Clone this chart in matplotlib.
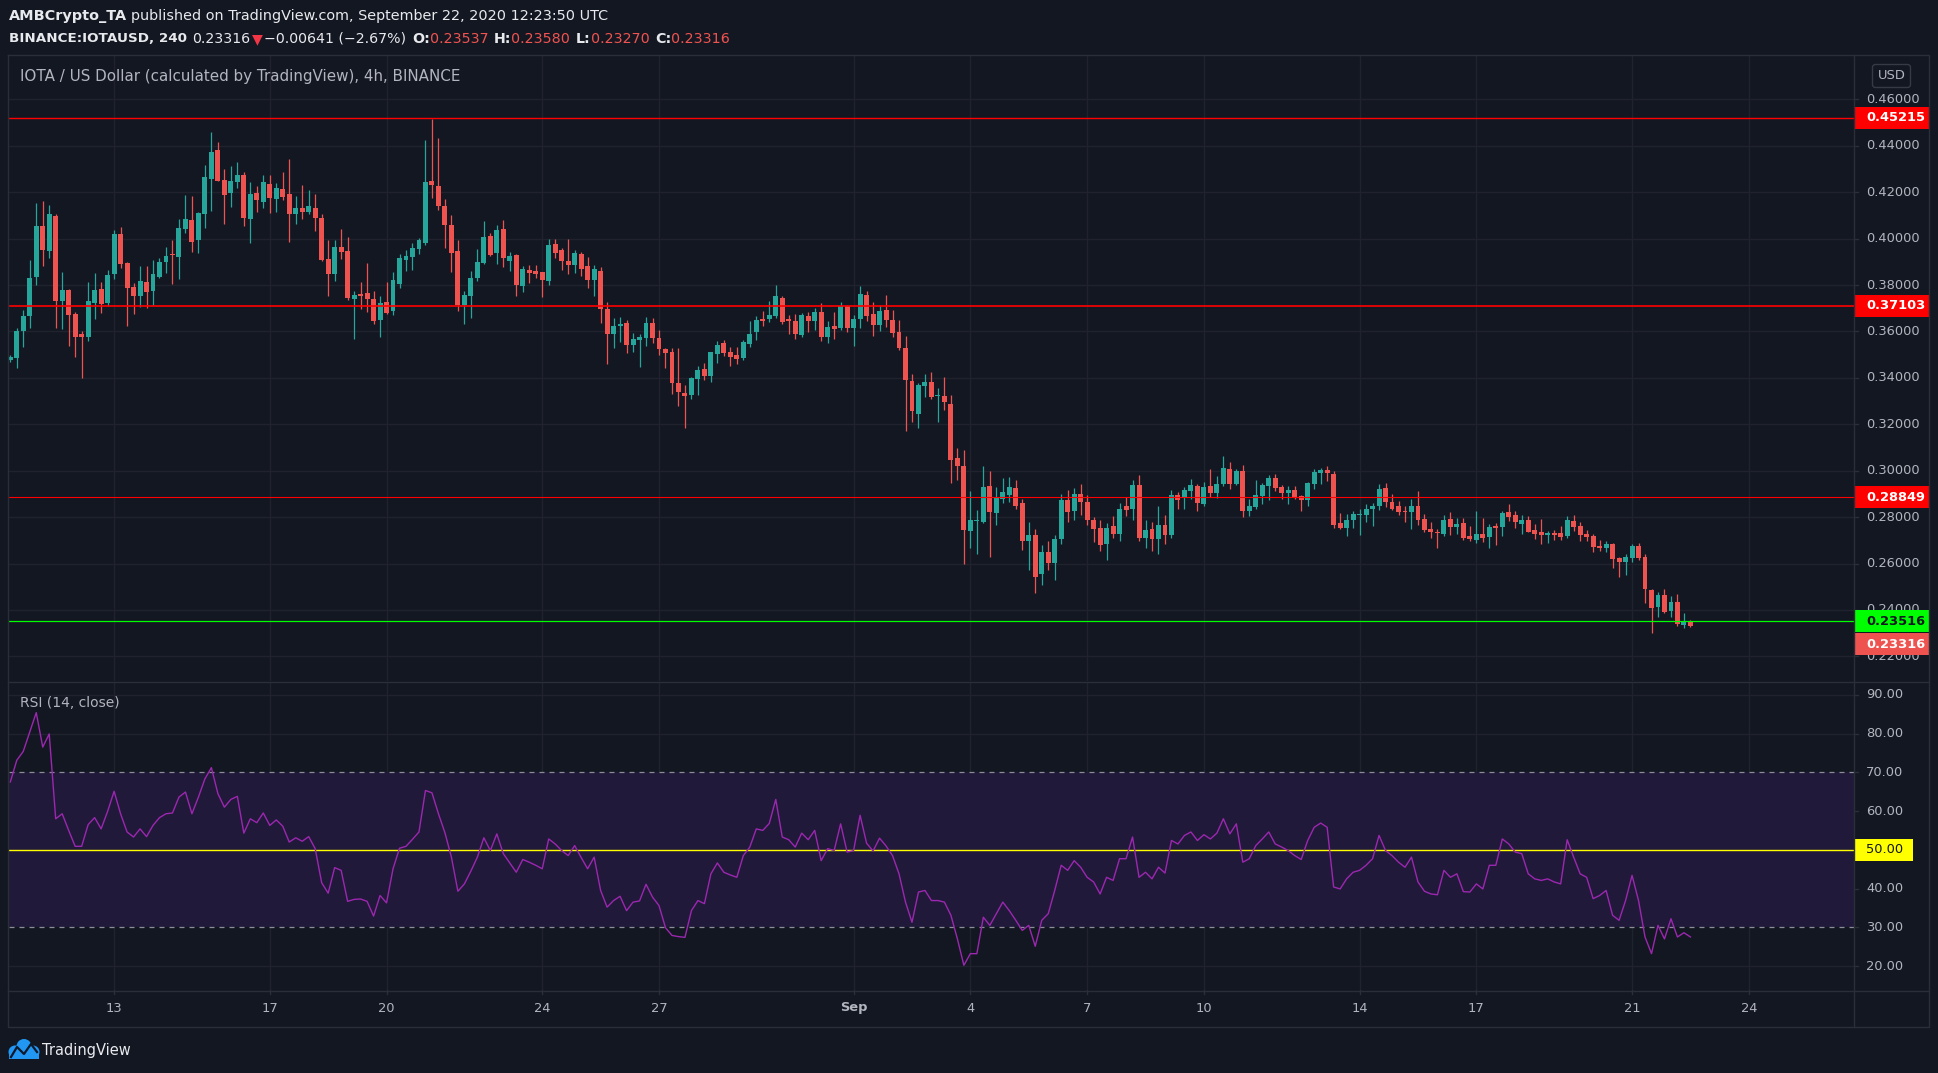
import numpy as np
import pandas as pd
import matplotlib
matplotlib.use("Agg")
import matplotlib.pyplot as plt
from matplotlib.patches import Rectangle, FancyBboxPatch, Circle

# ---------------- data (IOTA/USD 4h, Binance) ----------------
start_time = "2020-08-10 08:00"
opens = [
 .3476,.3485,.3602,.3665,.3835,.4055,.3948,.4098,.3730,.3778,.3674,.3587,.3578,.3721,.3782,.3721,
 .3847,.4020,.3895,.3791,.3752,.3812,.3773,.3834,.3899,.3934,.3921,.4042,.4081,.3994,.4107,.4259,
 .4380,.4254,.4198,.4245,.4272,.4085,.4198,.4159,.4237,.4172,.4215,.4194,.4107,.4133,.4116,.4133,
 .4090,.3912,.3847,.3964,.3947,.3739,.3760,.3765,.3739,.3648,.3726,.3687,.3804,.3908,.3921,.3955,
 .3981,.4250,.4228,.4142,.4059,.3947,.3713,.3752,.3830,.3895,.4010,.3937,.4040,.3902,.3928,.3795,
 .3864,.3859,.3855,.3816,.3976,.3950,.3902,.3885,.3933,.3881,.3821,.3859,.3696,.3588,.3622,.3635,
 .3541,.3562,.3571,.3635,.3571,.3523,.3510,.3377,.3334,.3325,.3394,.3437,.3407,.3502,.3549,.3510,
 .3497,.3485,.3545,.3597,.3653,.3653,.3666,.3743,.3653,.3644,.3584,.3666,.3644,.3683,.3575,.3622,
 .3614,.3709,.3614,.3653,.3756,.3674,.3627,.3692,.3648,.3597,.3528,.3386,.3244,.3364,.3381,.3322,
 .3321,.3286,.3054,.3019,.2738,.2783,.2777,.2932,.2816,.2876,.2894,.2924,.2859,.2695,.2721,.2553,
 .2648,.2604,.2704,.2872,.2825,.2898,.2863,.2786,.2755,.2686,.2760,.2729,.2846,.2837,.2937,.2708,
 .2747,.2704,.2768,.2725,.2894,.2881,.2911,.2932,.2855,.2932,.2902,.2941,.3006,.2941,.2997,.2825,
 .2842,.2889,.2932,.2967,.2928,.2902,.2915,.2889,.2872,.2941,.2989,.3001,.2984,.2773,.2755,.2786,
 .2809,.2807,.2833,.2846,.2924,.2863,.2846,.2825,.2820,.2846,.2794,.2747,.2734,.2729,.2793,.2758,
 .2776,.2719,.2702,.2728,.2715,.2763,.2758,.2823,.2810,.2771,.2789,.2745,.2737,.2724,.2732,.2732,
 .2719,.2784,.2763,.2728,.2719,.2676,.2668,.2685,.2625,.2607,.2625,.2676,.2629,.2487,.2413,.2465,
 .2396,.2435,.2335,.23537]
highs = [
 .3499,.3615,.3691,.3908,.4155,.4163,.4146,.4105,.3856,.3781,.3682,.3600,.3812,.3851,.3812,.3864,
 .4038,.4051,.3899,.3808,.3882,.3882,.3908,.3916,.3964,.3994,.4085,.4189,.4185,.4116,.4319,.4458,
 .4415,.4298,.4315,.4332,.4289,.4245,.4228,.4276,.4272,.4241,.4289,.4345,.4185,.4233,.4211,.4194,
 .4107,.3994,.3994,.4042,.4007,.3773,.3812,.3895,.3773,.3752,.3812,.3856,.3934,.3951,.3981,.4003,
 .4423,.4514,.4432,.4172,.4103,.3994,.3773,.3860,.3955,.4077,.4023,.4058,.4080,.3941,.3933,.3881,
 .3885,.3885,.3857,.3997,.3997,.3958,.3997,.3950,.3941,.3920,.3885,.3877,.3726,.3657,.3661,.3648,
 .3592,.3588,.3661,.3657,.3605,.3528,.3528,.3528,.3368,.3403,.3450,.3463,.3510,.3558,.3562,.3532,
 .3532,.3562,.3644,.3666,.3687,.3730,.3799,.3752,.3670,.3674,.3679,.3683,.3700,.3722,.3644,.3683,
 .3726,.3713,.3670,.3795,.3773,.3726,.3713,.3756,.3692,.3648,.3579,.3416,.3377,.3416,.3425,.3355,
 .3403,.3325,.3097,.3088,.2911,.2829,.3019,.2997,.2928,.2967,.2971,.2958,.2876,.2777,.2747,.2678,
 .2695,.2725,.2898,.2915,.2924,.2941,.2894,.2799,.2786,.2773,.2803,.2859,.2885,.2958,.2980,.2786,
 .2781,.2850,.2807,.2915,.2907,.2928,.2963,.2941,.2950,.3006,.2976,.3062,.3036,.3006,.3023,.2876,
 .2958,.2945,.2980,.2984,.2937,.2932,.2932,.2894,.2950,.3006,.3010,.3019,.2997,.2816,.2812,.2825,
 .2833,.2855,.2859,.2941,.2945,.2898,.2868,.2850,.2876,.2911,.2812,.2781,.2747,.2807,.2823,.2797,
 .2797,.2763,.2827,.2797,.2771,.2776,.2827,.2858,.2827,.2810,.2806,.2771,.2793,.2741,.2745,.2763,
 .2806,.2810,.2780,.2745,.2728,.2702,.2698,.2689,.2629,.2642,.2685,.2689,.2642,.2491,.2478,.2491,
 .2461,.2469,.2387,.23580]
lows = [
 .3470,.3441,.3535,.3617,.3801,.3882,.3918,.3617,.3609,.3539,.3492,.3398,.3558,.3652,.3678,.3710,
 .3825,.3873,.3622,.3674,.3704,.3700,.3713,.3830,.3851,.3804,.3825,.4025,.3942,.3938,.4046,.4120,
 .4247,.4064,.4137,.4220,.4055,.3981,.4116,.4133,.4111,.4116,.4168,.3986,.4064,.4085,.4107,.4033,
 .3903,.3752,.3817,.3912,.3734,.3566,.3695,.3682,.3630,.3578,.3674,.3669,.3786,.3860,.3864,.3934,
 .3973,.4176,.4124,.3960,.3856,.3687,.3630,.3656,.3817,.3890,.3924,.3889,.3877,.3859,.3752,.3769,
 .3808,.3829,.3747,.3799,.3915,.3864,.3846,.3851,.3838,.3786,.3752,.3635,.3459,.3528,.3554,.3506,
 .3510,.3446,.3536,.3549,.3498,.3442,.3330,.3278,.3183,.3308,.3325,.3390,.3381,.3463,.3493,.3450,
 .3459,.3476,.3532,.3562,.3622,.3640,.3657,.3631,.3588,.3566,.3575,.3597,.3605,.3558,.3549,.3566,
 .3605,.3597,.3536,.3614,.3644,.3579,.3601,.3618,.3575,.3519,.3170,.3209,.3183,.3317,.3308,.3209,
 .3261,.2946,.2959,.2597,.2669,.2643,.2773,.2630,.2768,.2859,.2863,.2837,.2660,.2574,.2471,.2509,
 .2574,.2527,.2682,.2777,.2786,.2807,.2764,.2691,.2652,.2617,.2712,.2699,.2803,.2786,.2695,.2665,
 .2652,.2643,.2686,.2712,.2837,.2837,.2876,.2825,.2850,.2885,.2881,.2932,.2919,.2937,.2799,.2803,
 .2837,.2855,.2872,.2911,.2876,.2855,.2876,.2825,.2850,.2919,.2941,.2954,.2755,.2747,.2717,.2755,
 .2721,.2781,.2760,.2829,.2842,.2829,.2807,.2781,.2747,.2764,.2734,.2708,.2665,.2717,.2724,.2728,
 .2702,.2698,.2689,.2694,.2668,.2681,.2720,.2784,.2754,.2728,.2734,.2707,.2685,.2689,.2702,.2702,
 .2711,.2741,.2698,.2698,.2650,.2655,.2650,.2581,.2543,.2551,.2607,.2616,.2430,.2301,.2370,.2387,
 .2370,.2331,.2322,.23270]
closes = [
 .3490,.3604,.3665,.3830,.4055,.3951,.4107,.3730,.3778,.3671,.3578,.3574,.3730,.3778,.3718,.3843,
 .4020,.3890,.3786,.3752,.3817,.3769,.3847,.3899,.3925,.3929,.4046,.4085,.3986,.4111,.4267,.4375,
 .4250,.4189,.4250,.4276,.4090,.4194,.4168,.4245,.4176,.4220,.4181,.4107,.4133,.4116,.4142,.4090,
 .3908,.3847,.3964,.3942,.3743,.3756,.3752,.3739,.3643,.3721,.3678,.3821,.3916,.3925,.3960,.3994,
 .4245,.4233,.4142,.4059,.3938,.3713,.3756,.3830,.3899,.4007,.3928,.4036,.3915,.3924,.3799,.3868,
 .3851,.3846,.3821,.3971,.3937,.3902,.3885,.3937,.3868,.3821,.3868,.3696,.3588,.3622,.3631,.3541,
 .3566,.3575,.3635,.3571,.3523,.3506,.3377,.3338,.3321,.3398,.3433,.3407,.3510,.3541,.3506,.3489,
 .3480,.3554,.3588,.3648,.3644,.3670,.3752,.3640,.3644,.3588,.3670,.3644,.3683,.3575,.3618,.3609,
 .3709,.3614,.3653,.3760,.3666,.3627,.3687,.3648,.3592,.3528,.3390,.3256,.3368,.3381,.3317,.3325,
 .3295,.3045,.3019,.2744,.2786,.2786,.2928,.2820,.2881,.2907,.2928,.2850,.2699,.2721,.2540,.2648,
 .2604,.2704,.2872,.2820,.2898,.2863,.2786,.2747,.2678,.2755,.2729,.2837,.2829,.2937,.2712,.2743,
 .2704,.2768,.2725,.2894,.2872,.2915,.2937,.2859,.2928,.2902,.2941,.3010,.2941,.2997,.2825,.2846,
 .2894,.2937,.2967,.2924,.2902,.2915,.2885,.2872,.2945,.2993,.3001,.2989,.2764,.2751,.2786,.2812,
 .2812,.2833,.2850,.2919,.2863,.2837,.2820,.2822,.2846,.2786,.2743,.2734,.2731,.2786,.2758,.2771,
 .2711,.2707,.2728,.2711,.2758,.2754,.2819,.2802,.2780,.2789,.2737,.2728,.2724,.2732,.2724,.2715,
 .2789,.2758,.2724,.2715,.2672,.2668,.2685,.2620,.2607,.2629,.2676,.2625,.2491,.2409,.2465,.2391,
 .2435,.2340,.2353,.23316]
rsi = [
 67.5,73.1,75.4,80.4,85.4,76.5,79.9,58.0,59.3,55.0,50.9,50.9,56.5,58.3,55.4,59.9,
 65.1,59.3,54.6,53.3,55.4,53.4,56.3,58.3,59.3,59.5,63.6,64.9,59.3,63.6,68.3,71.2,
 64.5,61.0,63.0,63.8,54.3,58.0,57.0,59.5,56.3,57.7,56.1,52.0,53.1,52.2,53.4,50.3,
 41.5,38.8,45.4,44.7,36.7,37.2,37.3,36.7,32.9,38.2,36.3,45.1,50.4,50.9,52.7,54.6,
 65.3,64.7,59.3,54.4,48.1,39.3,41.2,44.5,48.1,53.1,49.8,54.1,49.0,46.6,44.2,47.5,
 46.8,46.0,45.1,52.8,51.5,49.8,48.5,51.1,48.0,45.1,48.1,39.5,35.2,36.9,38.0,34.3,
 36.5,36.8,41.1,37.8,35.6,29.9,27.9,27.6,27.4,34.3,36.9,36.1,43.8,46.6,44.2,43.5,
 42.9,48.5,50.7,55.4,55.0,56.8,63.0,53.3,52.6,50.7,54.3,52.6,55.0,47.2,50.3,49.8,
 56.7,49.4,49.8,58.9,51.7,49.7,53.0,51.0,48.5,43.8,36.5,31.3,39.1,39.5,36.9,36.9,
 36.5,33.1,27.0,20.2,23.2,23.2,32.6,30.5,33.5,36.5,34.3,31.8,29.2,30.5,25.1,31.8,
 33.5,39.5,46.0,44.7,47.2,45.5,42.9,41.7,38.6,42.9,42.1,47.7,47.7,53.3,42.9,44.2,
 42.5,45.5,44.0,52.4,51.5,53.7,54.6,52.4,53.9,52.8,54.3,58.0,54.1,56.7,46.8,47.7,
 51.1,52.8,54.6,51.5,50.7,49.8,48.5,47.5,52.4,55.8,56.9,55.8,40.4,39.9,42.5,44.2,
 44.7,46.0,47.7,53.7,49.8,48.5,46.8,45.5,48.1,41.7,39.3,38.6,38.4,44.7,42.9,43.8,
 39.2,39.1,41.2,39.9,46.0,46.0,52.8,51.5,49.4,49.0,43.8,42.5,42.1,42.5,41.7,41.2,
 52.6,48.1,43.8,42.9,37.4,38.2,39.5,33.1,31.8,36.9,43.4,36.9,27.5,23.2,30.5,27.0,
 32.2,27.5,28.6,27.5]
level_lines = [0.45215, 0.37103, 0.28849]
support_line = 0.23516
last_price = 0.23316
price_ticks = [0.22, 0.24, 0.26, 0.28, 0.30, 0.32, 0.34, 0.36, 0.38, 0.40, 0.42, 0.44, 0.46]
rsi_ticks = [20, 30, 40, 50, 60, 70, 80, 90]
rsi_grid = [20, 40, 60, 80, 90]
date_ticks = ["2020-08-13", "2020-08-17", "2020-08-20", "2020-08-24", "2020-08-27", "2020-09-01",
              "2020-09-04", "2020-09-07", "2020-09-10", "2020-09-14", "2020-09-17", "2020-09-21", "2020-09-24"]
date_labels = ["13", "17", "20", "24", "27", "Sep", "4", "7", "10", "14", "17", "21", "24"]

# ---------------- style ----------------
W, H = 1938, 1073
BG = "#131722"
GRID = "#20232e"
BORDER = "#2a2e39"
TXT = "#b2b5be"
UP, DOWN = "#26a69a", "#ef5350"
FONT = "DejaVu Sans"

o = np.array(opens); hi = np.array(highs); lo = np.array(lows); c = np.array(closes)
n = len(c)
times = pd.date_range(start_time, periods=n, freq="4h")
ref = pd.Timestamp("2020-08-13 00:00")
x = np.asarray((times - ref) / pd.Timedelta(hours=4), dtype=float)
tick_x = [(pd.Timestamp(d) - ref) / pd.Timedelta(hours=4) for d in date_ticks]

fig = plt.figure(figsize=(W / 100, H / 100), dpi=100, facecolor=BG)

def rect(x0, y0, x1, y1):
    return [x0 / W, 1 - y1 / H, (x1 - x0) / W, (y1 - y0) / H]

X0, X1 = 9, 1854
XL = (-16.2, -16.2 + (X1 - X0) / 6.487)
PY = (0.20938, 0.47912)
RY = (13.82, 93.3)
PPX = 2322.6   # pixels per price unit
RPX = 3.875    # pixels per RSI unit

ax = fig.add_axes(rect(X0, 55, X1, 681))
axr = fig.add_axes(rect(X0, 682, X1, 990))
axp = fig.add_axes(rect(X1, 55, 1929, 681))
axq = fig.add_axes(rect(X1, 682, 1929, 990))
axt = fig.add_axes(rect(X0, 990, X1, 1026))
for a in (ax, axr, axp, axq, axt):
    a.set_facecolor(BG)
    for s in a.spines.values():
        s.set_visible(False)
    a.set_xticks([]); a.set_yticks([])

# price pane
ax.set_xlim(*XL); ax.set_ylim(*PY)
for t in price_ticks:
    ax.axhline(t, color=GRID, lw=1, zorder=0)
for tx in tick_x:
    ax.axvline(tx, color=GRID, lw=1, zorder=0)
col = np.where(c >= o, UP, DOWN)
ax.vlines(x, lo, hi, colors=col, lw=0.9, zorder=2)
body_h = np.maximum(np.abs(c - o), 0.00045)
ax.bar(x, body_h, bottom=np.minimum(o, c), width=0.76, color=col, lw=0, zorder=3)
ax.axhline(level_lines[0], color="#ff0000", lw=1.0, zorder=4)
ax.axhline(level_lines[1], color="#ff0000", lw=1.2, zorder=4)
ax.axhline(level_lines[2], color="#ff0000", lw=0.8, zorder=4)
ax.axhline(support_line, color="#00ff00", lw=0.9, zorder=4)

# RSI pane
axr.set_xlim(*XL); axr.set_ylim(*RY)
for t in rsi_grid:
    axr.axhline(t, color=GRID, lw=1, zorder=0)
for tx in tick_x:
    axr.axvline(tx, color=GRID, lw=1, zorder=0)
axr.axhspan(30, 70, color="#21193a", lw=0, zorder=0.5)
axr.axhline(70, color="#8a8d96", lw=0.9, ls=(0, (4, 4)), zorder=1)
axr.axhline(30, color="#8a8d96", lw=0.9, ls=(0, (4, 4)), zorder=1)
axr.axhline(50, color="#ffff00", lw=1.0, zorder=1)
axr.plot(x, rsi, color="#9c27b0", lw=1.0, zorder=3)

# price scale
axp.set_xlim(0, 75); axp.set_ylim(*PY)
for t in price_ticks:
    axp.plot([0, 4], [t, t], color=BORDER, lw=1)
    axp.text(12, t, f"{t:.5f}", fontsize=9.4, color=TXT, family=FONT, va="center", ha="left")
bh = 22 / PPX
def pbox(yc, val, fc, tc):
    axp.add_patch(Rectangle((0, yc - bh / 2), 75, bh, fc=fc, ec="none", zorder=5))
    axp.text(12, yc, f"{val:.5f}", fontsize=9.4, color=tc, family=FONT, fontweight="bold",
             va="center", ha="left", zorder=6)
for lv in level_lines:
    pbox(lv, lv, "#ff0000", "white")
pbox(support_line, support_line, "#00ff00", "#131722")
pbox(support_line - 23 / PPX, last_price, "#ef5350", "white")
usd_c = 0.46 + (98.9 - 75.5) / PPX
usd_h = 23 / PPX
axp.add_patch(FancyBboxPatch((18.5, usd_c - usd_h / 2), 38, usd_h,
                             boxstyle="round,pad=0,rounding_size=3",
                             fc=BG, ec="#363a45", lw=1, mutation_aspect=1 / PPX))
axp.text(37.5, usd_c, "USD", fontsize=9.4, color=TXT, family=FONT, va="center", ha="center")

# RSI scale
axq.set_xlim(0, 75); axq.set_ylim(*RY)
for t in rsi_ticks:
    axq.plot([0, 4], [t, t], color=BORDER, lw=1)
    axq.text(12, t, f"{t:.2f}", fontsize=9.4, color=TXT, family=FONT, va="center", ha="left")
rb = 22 / RPX
axq.add_patch(Rectangle((0, 50 - rb / 2), 59, rb, fc="#ffff00", ec="none", zorder=5))
axq.text(12, 50, "50.00", fontsize=9.4, color="#131722", family=FONT, va="center", ha="left", zorder=6)

# time scale
axt.set_xlim(*XL); axt.set_ylim(0, 36)
for tx, lab in zip(tick_x, date_labels):
    axt.plot([tx, tx], [36, 32], color=BORDER, lw=1)
    axt.text(tx, 18, lab, fontsize=9.4, color=TXT, family=FONT, va="center", ha="center",
             fontweight="bold" if lab == "Sep" else "normal")

# overlay in pixel coords
ov = fig.add_axes([0, 0, 1, 1], facecolor="none")
ov.set_xlim(0, W); ov.set_ylim(H, 0); ov.axis("off")
bl = dict(color=BORDER, lw=1)
ov.plot([8.5, 1929.5, 1929.5, 8.5, 8.5], [54.5, 54.5, 1026.5, 1026.5, 54.5], **bl)
ov.plot([1854.5, 1854.5], [54.5, 1026.5], **bl)
ov.plot([8.5, 1929.5], [681.5, 681.5], **bl)
ov.plot([8.5, 1929.5], [990.5, 990.5], **bl)

ov.text(20, 76, "IOTA / US Dollar (calculated by TradingView), 4h, BINANCE",
        fontsize=10.9, color=TXT, family=FONT, va="center", ha="left")
ov.text(20, 703, "RSI (14, close)", fontsize=10.0, color=TXT, family=FONT, va="center", ha="left")

# header lines
renderer = fig.canvas.get_renderer()
def chain(xp, yp, parts):
    for s, wt, colr, gap, size in parts:
        t = ov.text(xp, yp, s, fontsize=size, fontweight=wt, color=colr, family=FONT,
                    va="center", ha="left")
        bb = t.get_window_extent(renderer=renderer)
        xp = bb.x1 + gap
WH = "#e8e9ed"
RED = "#f05350"
chain(9, 16, [("AMBCrypto_TA", "bold", WH, 4, 10.4),
              ("published on TradingView.com, September 22, 2020 12:23:50 UTC", "normal", WH, 0, 10.35)])
chain(9, 39, [("BINANCE:IOTAUSD, 240", "bold", WH, 5.5, 9.7), ("0.23316", "normal", WH, 1, 10.2),
              ("\u25bc", "normal", "#f23645", 2, 10.2), ("\u22120.00641 (\u22122.67%)", "normal", WH, 5.5, 10.2),
              ("O:", "bold", WH, 0, 10.25), ("0.23537", "normal", RED, 5.5, 10.25),
              ("H:", "bold", WH, 0, 10.25), ("0.23580", "normal", RED, 5.5, 10.25),
              ("L:", "bold", WH, 0, 10.25), ("0.23270", "normal", RED, 5.5, 10.25),
              ("C:", "bold", WH, 0, 10.25), ("0.23316", "normal", RED, 0, 10.25)])

# TradingView logo + wordmark
BLUE = "#2196f3"
for cx, cy, r in [(15, 1052, 6.5), (24, 1046.5, 7.5), (33, 1052, 6.5)]:
    ov.add_patch(Circle((cx, cy), r, fc=BLUE, ec="none"))
ov.add_patch(Rectangle((9, 1050), 30, 8.5, fc=BLUE, ec="none"))
ov.plot([11, 17, 24, 31, 37], [1057, 1047, 1054, 1044, 1052], color="#0d1a2b", lw=1.6,
        solid_joinstyle="round")
ov.text(42, 1050, "TradingView", fontsize=10.5, color="#e8e9ed", family=FONT, va="center", ha="left")

fig.savefig("out.png", dpi=100, facecolor=BG)
